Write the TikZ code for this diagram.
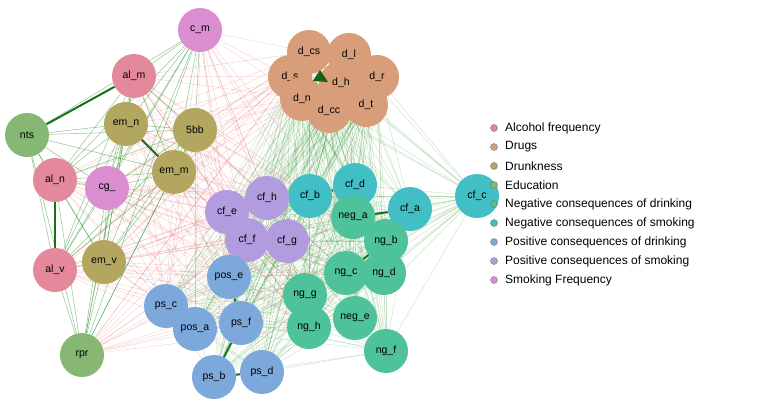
\documentclass[tikz,border=0pt]{standalone}
\usepackage{fontspec}
\setmainfont{Liberation Sans}
\usetikzlibrary{backgrounds}
\definecolor{alc}{HTML}{E4899C}
\definecolor{drg}{HTML}{D89E79}
\definecolor{drk}{HTML}{B3A65E}
\definecolor{edu}{HTML}{86B873}
\definecolor{ndr}{HTML}{4EC29A}
\definecolor{nsm}{HTML}{42BFC4}
\definecolor{pdr}{HTML}{7DA8DC}
\definecolor{psm}{HTML}{B29CE0}
\definecolor{smf}{HTML}{DB8DD2}
\definecolor{egreen}{HTML}{1E8C1E}
\definecolor{ered}{HTML}{E06060}
\tikzset{
  var/.style={circle,minimum size=44pt,inner sep=0pt,font=\fontsize{10.5}{12}\selectfont},
  lg/.style={circle,draw=black!60,line width=0.3pt,minimum size=7pt,inner sep=0pt},
  lgtext/.style={right=4pt,font=\fontsize{12}{14}\selectfont,anchor=west},
  thickedge/.style={egreen!80!black,line width=2pt}
}
\begin{document}
\begin{tikzpicture}[x=1pt,y=-1pt]
\useasboundingbox (0,0) rectangle (779,407);
% variables
\node[var,fill=smf] (c_m) at (200,30) {c\_m};
\node[var,fill=alc] (al_m) at (134,76) {al\_m};
\node[var,fill=drk] (em_n) at (126,124) {em\_n};
\node[var,fill=drk] (5bb) at (195,130) {5bb};
\node[var,fill=edu] (nts) at (27,135) {nts};
\node[var,fill=drk] (em_m) at (174,172) {em\_m};
\node[var,fill=alc] (al_n) at (55,180) {al\_n};
\node[var,fill=smf] (cg_) at (107,188) {cg\_};
\node[var,fill=alc] (al_v) at (55,270) {al\_v};
\node[var,fill=drk] (em_v) at (104,262) {em\_v};
\node[var,fill=edu] (rpr) at (82,355) {rpr};
\node[var,fill=drg] (d_cs) at (309,52) {d\_cs};
\node[var,fill=drg] (d_l) at (349,55) {d\_l};
\node[var,fill=drg] (d_r) at (377,77) {d\_r};
\node[var,fill=drg] (d_s) at (290,77) {d\_s};
\node[var,fill=drg] (d_h) at (341,83) {d\_h};
\node[var,fill=drg] (d_n) at (302,99) {d\_n};
\node[var,fill=drg] (d_t) at (366,105) {d\_t};
\node[var,fill=drg] (d_cc) at (329,111) {d\_cc};
\node[var,fill=nsm] (cf_c) at (477,196) {cf\_c};
\node[var,fill=nsm] (cf_a) at (410,209) {cf\_a};
\node[var,fill=nsm] (cf_d) at (355,185) {cf\_d};
\node[var,fill=nsm] (cf_b) at (310,196) {cf\_b};
\node[var,fill=ndr] (neg_a) at (353,217) {neg\_a};
\node[var,fill=psm] (cf_h) at (267,198) {cf\_h};
\node[var,fill=psm] (cf_e) at (227,212) {cf\_e};
\node[var,fill=psm] (cf_f) at (247,240) {cf\_f};
\node[var,fill=psm] (cf_g) at (287,241) {cf\_g};
\node[var,fill=ndr] (ng_b) at (386,241) {ng\_b};
\node[var,fill=ndr] (ng_d) at (384,273) {ng\_d};
\node[var,fill=ndr] (ng_c) at (346,273) {ng\_c};
\node[var,fill=ndr] (ng_g) at (305,295) {ng\_g};
\node[var,fill=ndr] (neg_e) at (355,318) {neg\_e};
\node[var,fill=ndr] (ng_h) at (309,327) {ng\_h};
\node[var,fill=ndr] (ng_f) at (386,351) {ng\_f};
\node[var,fill=pdr] (pos_e) at (229,277) {pos\_e};
\node[var,fill=pdr] (ps_c) at (166,306) {ps\_c};
\node[var,fill=pdr] (ps_f) at (241,323) {ps\_f};
\node[var,fill=pdr] (pos_a) at (195,329) {pos\_a};
\node[var,fill=pdr] (ps_d) at (262,372) {ps\_d};
\node[var,fill=pdr] (ps_b) at (214,377) {ps\_b};

% edges
\begin{scope}[on background layer]
\foreach \a [count=\i] in {d_cs,d_l,d_r,d_s,d_h,d_n,d_t,d_cc,cf_c,cf_a,cf_d,cf_b,neg_a,cf_h,cf_e,cf_f,cf_g,ng_b,ng_d,ng_c,ng_g,neg_e,ng_h,ng_f,pos_e,ps_c,ps_f,pos_a,ps_d,ps_b}
  \foreach \b [count=\j] in {d_cs,d_l,d_r,d_s,d_h,d_n,d_t,d_cc,cf_c,cf_a,cf_d,cf_b,neg_a,cf_h,cf_e,cf_f,cf_g,ng_b,ng_d,ng_c,ng_g,neg_e,ng_h,ng_f,pos_e,ps_c,ps_f,pos_a,ps_d,ps_b}
    {\ifnum\j>\i \draw[egreen,opacity=0.25,line width=0.4pt] (\a) -- (\b);\fi}
\foreach \a in {c_m,al_m,em_n,5bb,em_m,cg_,al_n,al_v,em_v,rpr}
  \foreach \b in {d_s,d_n,d_cs,cf_e,cf_h,cf_f,cf_b,neg_a,ng_c,ng_g,ng_h,pos_e,ps_c,pos_a,ps_f}
    \draw[ered,opacity=0.3,line width=0.4pt] (\a) -- (\b);
\foreach \a [count=\i] in {c_m,al_m,em_n,5bb,nts,em_m,al_n,cg_,al_v,em_v,rpr}
  \foreach \b [count=\j] in {c_m,al_m,em_n,5bb,nts,em_m,al_n,cg_,al_v,em_v,rpr}
    {\ifnum\j>\i \draw[egreen,opacity=0.5,line width=0.5pt] (\a) -- (\b);\fi}
\draw[thickedge] (al_m) -- (nts);
\draw[thickedge] (em_n) -- (em_m);
\draw[thickedge] (al_n) -- (al_v);
\draw[thickedge] (ps_b) -- (ps_d);
\draw[thickedge] (ps_f) -- (ps_b);
\draw[thickedge] (ps_c) -- (pos_a);
\draw[thickedge] (ng_c) -- (ng_b);
\draw[thickedge] (cf_b) -- (cf_d);
\draw[thickedge] (cf_e) -- (cf_h);
\draw[thickedge] (ng_g) -- (ng_h);
\draw[thickedge] (pos_e) -- (ps_f);
\draw[thickedge] (neg_a) -- (cf_a);
\end{scope}
\fill[egreen!70!black] (320,70) -- (328,82) -- (313,81) -- cycle;

% legend
\foreach \col/\txt [count=\k] in {alc/Alcohol frequency,drg/Drugs,drk/Drunkness,edu/Education,ndr/Negative consequences of drinking,nsm/Negative consequences of smoking,pdr/Positive consequences of drinking,psm/Positive consequences of smoking,smf/Smoking Frequency}
  \node[lg,fill=\col] (lg\k) at (494,109+19*\k) {} node[lgtext] at (lg\k.east) {\txt};
\end{tikzpicture}
\end{document}
